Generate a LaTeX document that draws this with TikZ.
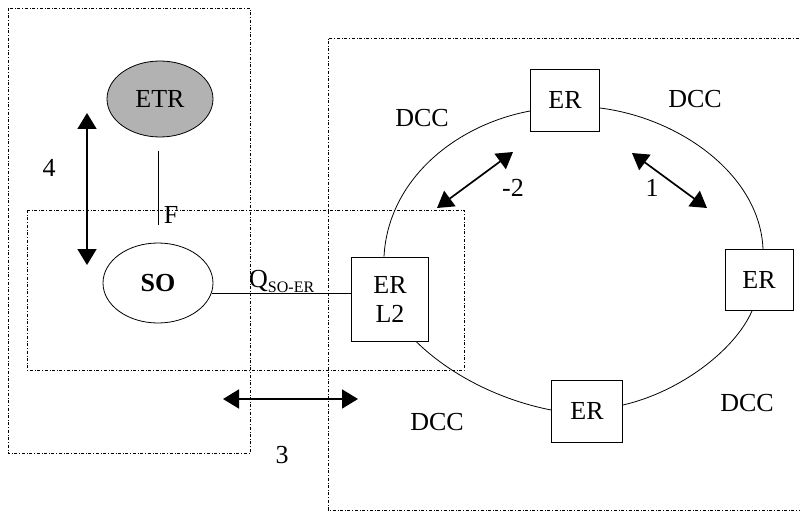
\documentclass[tikz,border=0pt]{standalone}
\usepackage{fontspec}
\setmainfont{Liberation Serif}
\usetikzlibrary{arrows.meta,shapes.geometric}
\begin{document}
\begin{tikzpicture}[x=1pt,y=-1pt,font=\fontsize{26}{29}\selectfont,
 region/.style={draw,dash dot,line width=0.8pt},
 erbox/.style={draw,line width=0.8pt,minimum width=69pt,minimum height=62pt,inner sep=0pt,align=center},
 ring/.style={line width=0.8pt},
 dbl/.style={line width=1.7pt,{Triangle[length=16pt,width=19pt]}-{Triangle[length=16pt,width=19pt]}},
 lbl/.style={inner sep=0pt}]
\useasboundingbox (0,0) rectangle (800,513);
% regions
\draw[region] (8,8) rectangle (250,453);
\draw[region] (806,38) -- (328,38) -- (328,510) -- (806,510);
\draw[region] (27,210) rectangle (464,370);
% nodes
\node[ellipse,draw,line width=0.8pt,fill=gray!60,minimum width=106pt,minimum height=76pt,inner sep=0pt] (etr) at (160,99) {ETR};
\node[ellipse,draw,line width=0.8pt,minimum width=110pt,minimum height=80pt,inner sep=0pt] (so) at (158,283) {\bfseries SO};
\node[erbox,minimum width=77pt,minimum height=84pt] (erl2) at (390,299) {ER\\L2};
\node[erbox] (ertop) at (565,100) {ER};
\node[erbox,minimum width=68pt,minimum height=61pt] (erright) at (759,280) {ER};
\node[erbox,minimum width=71pt] (erbot) at (587,411) {ER};
% F interface
\coordinate (ftop) at (158,151);
\coordinate (fbot) at (158,225);
\draw[line width=0.6pt] (ftop) -- (fbot);
\node[lbl] (flbl) at (171,215) {F};
% Q interface
\draw[line width=0.8pt] (so.-11) -- (so.-11 -| erl2.west);
\node[lbl,anchor=west] (qlbl) at (249,281) {Q\raisebox{-5pt}{\fontsize{16}{16}\selectfont SO-ER}};
% ring
\draw[ring] ([yshift=-11pt]ertop.west) .. controls (455,125) and (388,180) .. ([xshift=-6pt]erl2.north);
\draw[ring] ([yshift=-8pt]ertop.east) .. controls (680,118) and (760,175) .. ([xshift=4pt]erright.north);
\draw[ring] ([xshift=26pt]erl2.south) .. controls (450,375) and (500,400) .. ([yshift=1pt]erbot.west);
\draw[ring] ([yshift=6pt]erbot.east) .. controls (680,392) and (735,350) .. ([xshift=-7pt]erright.south);
% arrows
\coordinate (a4t) at (87,113); \coordinate (a4b) at (87,265);
\draw[dbl] (a4t) -- (a4b);
\coordinate (a3l) at (223,399); \coordinate (a3r) at (358,399);
\draw[dbl] (a3l) -- (a3r);
\coordinate (a2u) at (513,152); \coordinate (a2d) at (437,208);
\draw[dbl] (a2u) -- (a2d);
\coordinate (a1u) at (632,153); \coordinate (a1d) at (707,208);
\draw[dbl] (a1u) -- (a1d);
% labels
\node[lbl] (l4) at (49,168) {4};
\node[lbl] (l3) at (282,455) {3};
\node[lbl] (l2) at (513,188) {-2};
\node[lbl] (l1) at (652,188) {1};
\node[lbl] (d1) at (422,118) {DCC};
\node[lbl] (d2) at (695,99) {DCC};
\node[lbl] (d3) at (437,422) {DCC};
\node[lbl] (d4) at (747,403) {DCC};
\end{tikzpicture}
\end{document}
